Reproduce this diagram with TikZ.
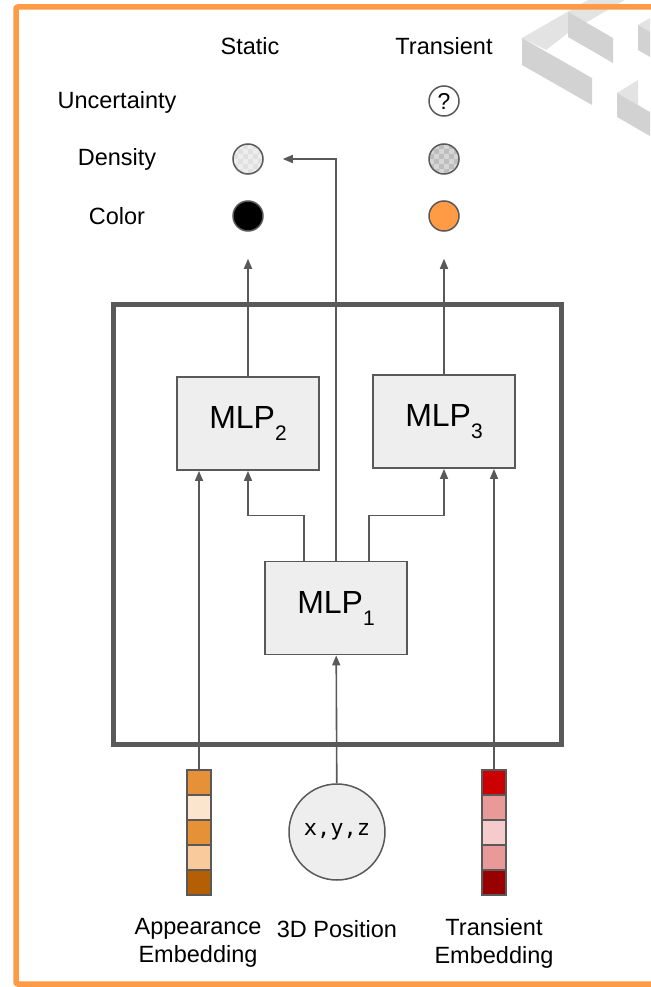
\documentclass[tikz,border=0pt]{standalone}
\usepackage{fontspec}
\setmainfont{Liberation Sans}
\setmonofont{DejaVu Sans Mono}
\usepackage{xcolor}
\definecolor{frameorange}{HTML}{FF9A45}
\definecolor{ink}{HTML}{595959}
\definecolor{boxfill}{HTML}{EEEEEE}
\definecolor{wmlight}{HTML}{E3E3E3}
\definecolor{wmmid}{HTML}{D2D2D2}
\definecolor{appA}{HTML}{E69138}
\definecolor{appB}{HTML}{FCE5CD}
\definecolor{appC}{HTML}{F9CB9C}
\definecolor{appD}{HTML}{B45F06}
\definecolor{trA}{HTML}{CC0000}
\definecolor{trB}{HTML}{EA9999}
\definecolor{trC}{HTML}{F4CCCC}
\definecolor{trD}{HTML}{990000}
\usepackage{tikz}
\usetikzlibrary{arrows.meta,positioning,calc}

\begin{document}
\begin{tikzpicture}[x=1pt, y=-1pt,
  lbl/.style={font=\fontsize{23.5}{28}\selectfont, inner sep=0pt, align=center},
  mlp/.style={draw=ink, fill=boxfill, line width=1.8pt,
    minimum width=142pt, minimum height=93pt, inner sep=0pt,
    font=\fontsize{32}{36}\selectfont},
  dot/.style={circle, draw=ink, line width=1.5pt, minimum size=30pt, inner sep=0pt},
  checker/.style 2 args={fill=#1, path picture={
    \foreach \i in {-3,...,2}{\foreach \j in {-3,...,2}{
      \pgfmathtruncatemacro\k{mod(\i+\j+6,2)}
      \ifnum\k=0 \fill[#2] ($(path picture bounding box.center)+(\i*5,\j*5)$) rectangle +(5,5); \fi}}}},
  cell/.style={draw=ink, line width=1.5pt, minimum width=24pt, minimum height=25pt, inner sep=0pt},
  flow/.style={-{Triangle[length=10pt,width=8pt]}, ink, line width=1.6pt}]

  \useasboundingbox (0,0) rectangle (650,987);

  % decorative blocks, top right
  \fill[wmlight] (522,38) -- (588,0) -- (625,0) -- (568,33) -- (546,50) -- cycle;
  \fill[wmmid] (568,12) -- (613,38) -- (613,63) -- (568,37) -- cycle;
  \fill[wmmid] (522,38) -- (592,78) -- (592,105) -- (522,65) -- cycle;
  \fill[wmlight] (638,25) -- (650,18) -- (650,32) -- cycle;
  \fill[wmmid] (638,25) -- (650,32) -- (650,57) -- (638,50) -- cycle;
  \fill[wmlight] (617,93) -- (638,80) -- (638,105) -- cycle;
  \fill[wmmid] (617,93) -- (650,112) -- (650,136) -- (617,117) -- cycle;

  % orange frame, open to the right
  \draw[frameorange, line width=5.5pt, rounded corners=2pt] (660,7) -- (16,7) -- (16,984) -- (660,984);

  % column and row labels
  \node[lbl] (static) at (250,46) {Static};
  \node[lbl] (transient) at (444,46) {Transient};
  \node[lbl] (uncert) at (117,102) {Uncertainty};
  \node[lbl] (density) at (117,159) {Density};
  \node[lbl] (color) at (117,216) {Color};

  % outputs
  \node[dot, checker={white!93!black}{white!88!black}] (sden) at (248,159) {};
  \node[dot, fill=black] (scol) at (248,216) {};
  \node[dot, fill=white, font=\fontsize{23}{23}\selectfont] (tunc) at (444,101) {?};
  \node[dot, checker={white!84!black}{white!74!black}] (tden) at (444,159) {};
  \node[dot, fill=frameorange] (tcol) at (444,216) {};

  % the network
  \node[draw=ink, line width=5pt, minimum width=448pt, minimum height=440pt] (net) at (337,524) {};
  \node[mlp] (mlp2) at (248,423.5) {MLP\raisebox{-12pt}{\fontsize{21}{21}\selectfont 2}};
  \node[mlp] (mlp3) at (444,421.5) {MLP\raisebox{-12pt}{\fontsize{21}{21}\selectfont 3}};
  \node[mlp] (mlp1) at (336,608) {MLP\raisebox{-12pt}{\fontsize{21}{21}\selectfont 1}};

  % inputs
  \node[circle, draw=ink, fill=boxfill, line width=1.5pt, minimum size=96pt, inner sep=0pt,
    font=\ttfamily\fontsize{22}{22}\selectfont] (xyz) at (337,832) {x,y,z};
  \foreach \c [count=\i] in {appA,appB,appA,appC,appD}
    \node[cell, fill=\c] (app\i) at (199,757.5+25*\i) {};
  \foreach \c [count=\i] in {trA,trB,trC,trB,trD}
    \node[cell, fill=\c] (tr\i) at (494,757.5+25*\i) {};
  \node[lbl] (applbl) at (198,943) {Appearance\\Embedding};
  \node[lbl] (poslbl) at (337,929) {3D Position};
  \node[lbl] (trlbl) at (494,943) {Transient\\Embedding};

  % connections
  \draw[flow] (xyz) -- (mlp1);
  \draw[flow] (app1.north) -- (app1.north |- mlp2.south);
  \draw[flow] (tr1.north) -- (tr1.north |- mlp3.south);
  \draw[flow] ([xshift=-32pt]mlp1.north) -- ++(0,-45) -| (mlp2.south);
  \draw[flow] ([xshift=33pt]mlp1.north) -- ++(0,-45) -| (mlp3.south);
  \draw[flow, shorten >=19pt] (mlp1.north) |- (sden.east);
  \draw[flow, shorten >=27pt] (mlp2.north) -- (scol.south);
  \draw[flow, shorten >=27pt] (mlp3.north) -- (tcol.south);
\end{tikzpicture}
\end{document}
